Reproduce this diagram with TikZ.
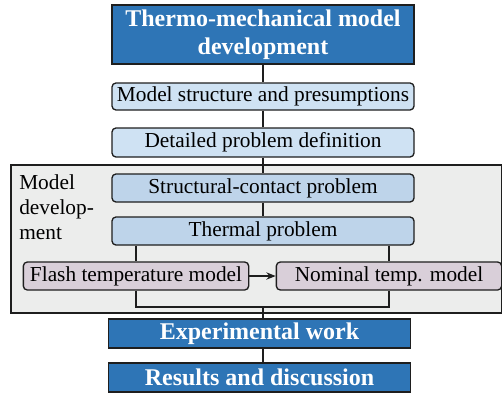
\documentclass[tikz,border=0pt]{standalone}
\usepackage{fontspec}
\setmainfont{Liberation Serif}
\usetikzlibrary{arrows.meta}
\definecolor{DB}{RGB}{46,117,182}
\definecolor{LB}{RGB}{207,226,243}
\definecolor{MB}{RGB}{190,212,234}
\definecolor{LM}{RGB}{217,207,217}
\definecolor{LGr}{RGB}{236,237,236}
\definecolor{DG}{RGB}{30,30,30}
\tikzset{
  mainbox/.style={draw=DG, line width=1pt, fill=DB, text=white, inner sep=0pt,
    font=\fontsize{18}{21}\selectfont\bfseries, align=center,
    minimum width=226.5pt, minimum height=21.75pt},
  stepbox/.style={draw=DG, line width=1pt, rounded corners=3pt, inner sep=0pt,
    font=\fontsize{16}{19}\selectfont, align=center,
    minimum width=226.5pt, minimum height=21pt},
  subbox/.style={stepbox, fill=LM, minimum width=169pt},
  link/.style={DG, line width=1pt}
}

\begin{document}
\begin{tikzpicture}[x=0.75pt, y=-0.75pt]
\useasboundingbox (0,0) rectangle (502,393);

% Model development frame
\node[draw=DG, line width=1pt, fill=LGr, minimum width=367.9pt, minimum height=111pt,
  inner sep=0pt] (mdev) at (256.25,239) {};
\node[font=\fontsize{16}{18.8}\selectfont, align=left, anchor=north west, inner sep=0pt]
  (mdevlbl) at (19,174) {Model\\develop-\\ment};

% Boxes
\node[mainbox, minimum height=44.25pt] (top) at (263,34.5)
  {\raisebox{-1.5pt}{Thermo-mechanical model}\\\raisebox{-1.5pt}{development}};
\node[stepbox, fill=LB, minimum height=20.25pt] (msp) at (263,96.5)
  {Model structure and presumptions};
\node[stepbox, fill=LB, minimum height=21.75pt] (dpd) at (263,142.5)
  {Detailed problem definition};
\node[stepbox, fill=MB] (scp) at (263,188) {Structural-contact problem};
\node[stepbox, fill=MB] (thp) at (263,231) {Thermal problem};
\node[subbox] (ftm) at (136,276) {Flash temperature model};
\node[subbox] (ntm) at (389,276) {Nominal temp. model};
\node[mainbox] (exw) at (259.5,333.5) {Experimental work};
\node[mainbox] (rad) at (259.5,377.5) {Results and discussion};
\coordinate (join) at (263,307);

% Connectors
\draw[link] (top) -- (msp);
\draw[link] (msp) -- (dpd);
\draw[link] (dpd) -- (scp);
\draw[link] (scp) -- (thp);
\draw[link] (ftm.north |- thp.south) -- (ftm.north);
\draw[link] (ntm.north |- thp.south) -- (ntm.north);
\draw[link] (ftm.south) |- (join) -| (ntm.south);
\draw[link] (join) -- (join |- exw.north);
\draw[link] (join |- exw.south) -- (join |- rad.north);
\draw[link, -{Stealth[length=7pt, width=5.5pt]}] (ftm) -- (ntm);
\end{tikzpicture}
\end{document}
